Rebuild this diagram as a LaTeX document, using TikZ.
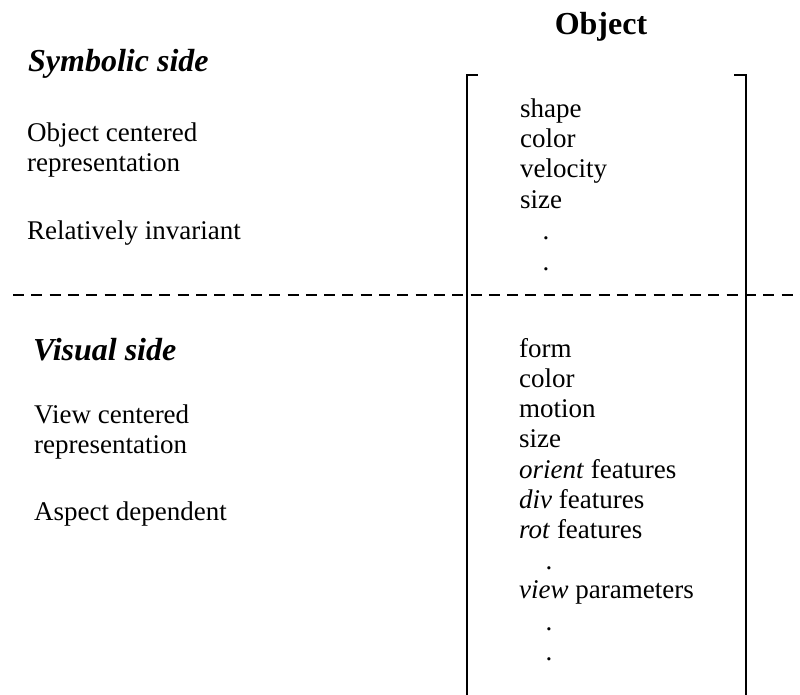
\documentclass[tikz,border=0pt]{standalone}
\usepackage{fontspec}
\setmainfont{Liberation Serif}
\begin{document}
\begin{tikzpicture}[x=1pt,y=-1pt,
  txt/.style={anchor=base west, inner sep=0pt, font=\fontsize{27}{30}\selectfont},
  head/.style={anchor=base west, inner sep=0pt, font=\fontsize{32}{36}\selectfont\bfseries\itshape},
  bar/.style={line width=2pt, line join=miter, line cap=butt},
  sep/.style={line width=2pt, dash pattern=on 11pt off 7.3pt}]
\useasboundingbox (0,0) rectangle (800,695);
% separator
\draw[sep] (13,295) -- (800,295);
% bracket
\draw[bar] (477.5,75) -- (466.7,75) -- (466.7,695);
\draw[bar] (734,75) -- (745.5,75) -- (745.5,695);
% header
\node[anchor=base, inner sep=0pt, font=\fontsize{32}{36}\selectfont\bfseries] (obj) at (601,35) {Object};
% left upper
\node[head] (sym) at (28,72) {Symbolic side};
\node[txt] (oc1) at (27,142) {Object centered};
\node[txt] (oc2) at (27,172) {representation};
\node[txt] (ri) at (27,240) {Relatively invariant};
% left lower
\node[head] (vis) at (33,360) {Visual side};
\node[txt] (vc1) at (34,423) {View centered};
\node[txt] (vc2) at (34,453) {representation};
\node[txt] (ad) at (34,520) {Aspect dependent};
% right upper
\node[txt] (u1) at (520,118) {shape};
\node[txt] (u2) at (520,148) {color};
\node[txt] (u3) at (520,178) {velocity};
\node[txt] (u4) at (520,208) {size};
\node[txt] (u5) at (542.5,240) {.};
\node[txt] (u6) at (542.5,270) {.};
% right lower
\node[txt] (l1) at (519,357) {form};
\node[txt] (l2) at (519,387) {color};
\node[txt] (l3) at (519,417) {motion};
\node[txt] (l4) at (519,447) {size};
\node[txt] (l5) at (519,478) {\textit{orient} features};
\node[txt] (l6) at (519,508) {\textit{div} features};
\node[txt] (l7) at (519,538) {\textit{rot} features};
\node[txt] (l8) at (545.5,569) {.};
\node[txt] (l9) at (519,598) {\textit{view} parameters};
\node[txt] (l10) at (545.5,630) {.};
\node[txt] (l11) at (545.5,660) {.};
\end{tikzpicture}
\end{document}
